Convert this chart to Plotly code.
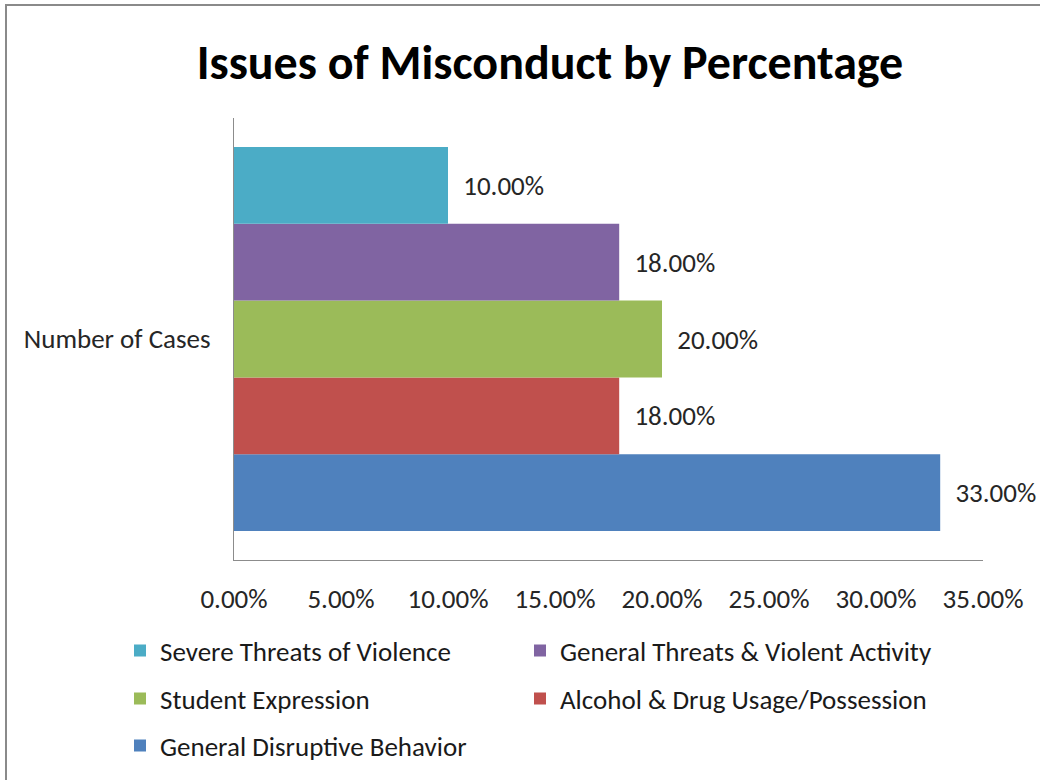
import plotly.graph_objects as go

# ---- data ----
categories = ["Number of Cases"]
series_names = [
    "General Disruptive Behavior",
    "Alcohol & Drug Usage/Possession",
    "Student Expression",
    "General Threats & Violent Activity",
    "Severe Threats of Violence",
]
series_values = [0.33, 0.18, 0.20, 0.18, 0.10]
series_colors = ["#4F81BD", "#C0504D", "#9BBB59", "#8064A2", "#4BACC6"]
x_tick_values = [0.00, 0.05, 0.10, 0.15, 0.20, 0.25, 0.30, 0.35]
title_text = "Issues of Misconduct by Percentage"

FONT = "Carlito, Lato, 'Open Sans', sans-serif"
FS = 27
W, H = 1040, 780
ML, MR, MT, MB = 234, 57, 118, 220
PW, PH = W - ML - MR, H - MT - MB


def px_to_paper_x(px):
    return (px - ML) / PW


def px_to_paper_y(py):
    return (H - MB - py) / PH


# legend slot for each series (column text start px, row center px)
legend_slots = {
    "Severe Threats of Violence": (162, 651),
    "General Threats & Violent Activity": (562, 651),
    "Student Expression": (162, 699),
    "Alcohol & Drug Usage/Possession": (562, 699),
    "General Disruptive Behavior": (162, 746),
}

fig = go.Figure()
legend_layouts = {}
for i, (name, val, col) in enumerate(zip(series_names, series_values, series_colors)):
    lname = "legend" if i == 0 else f"legend{i+1}"
    fig.add_trace(go.Bar(
        name=name,
        y=categories,
        x=[val],
        orientation="h",
        marker=dict(color=col, line=dict(width=0)),
        texttemplate="\u00a0\u00a0%{x:.2%}",
        textposition="outside",
        textfont=dict(family=FONT, size=FS, color="#262626"),
        cliponaxis=False,
        legend=lname,
        hoverinfo="skip",
    ))
    tx, ty = legend_slots[name]
    legend_layouts[lname] = dict(
        x=px_to_paper_x(tx - 42),
        y=px_to_paper_y(ty),
        xanchor="left",
        yanchor="middle",
        orientation="h",
        font=dict(family=FONT, size=FS, color="#1a1a1a"),
        bgcolor="rgba(0,0,0,0)",
    )

fig.update_layout(
    width=W,
    height=H,
    margin=dict(l=ML, r=MR, t=MT, b=MB, autoexpand=False),
    paper_bgcolor="white",
    plot_bgcolor="white",
    template="none",
    barmode="group",
    bargap=0.131,
    bargroupgap=0,
    showlegend=True,
    title=dict(
        text=f"<b>{title_text}</b>",
        x=550 / W,
        xref="container",
        xanchor="center",
        y=1 - 62 / H,
        yref="container",
        yanchor="middle",
        font=dict(family=FONT, size=48, color="#000000"),
    ),
    xaxis=dict(
        range=[0, 0.35],
        tickvals=x_tick_values,
        tickformat=".2%",
        showline=True,
        linecolor="#8c8c8c",
        linewidth=1,
        showgrid=False,
        zeroline=False,
        ticks="",
        ticklabelstandoff=15,
        tickfont=dict(family=FONT, size=FS, color="#262626"),
        fixedrange=True,
    ),
    yaxis=dict(
        showline=True,
        linecolor="#8c8c8c",
        linewidth=1,
        showgrid=False,
        zeroline=False,
        ticks="",
        ticklabelstandoff=17,
        tickfont=dict(family=FONT, size=FS, color="#262626"),
        fixedrange=True,
    ),
    shapes=[
        dict(type="line", xref="paper", yref="paper",
             x0=px_to_paper_x(5), x1=px_to_paper_x(W + 5),
             y0=px_to_paper_y(5), y1=px_to_paper_y(5),
             line=dict(color="#8a8a8a", width=2)),
        dict(type="line", xref="paper", yref="paper",
             x0=px_to_paper_x(6), x1=px_to_paper_x(6),
             y0=px_to_paper_y(5), y1=px_to_paper_y(H + 5),
             line=dict(color="#8a8a8a", width=2)),
    ],
    **legend_layouts,
)

fig.write_html("out.html")
